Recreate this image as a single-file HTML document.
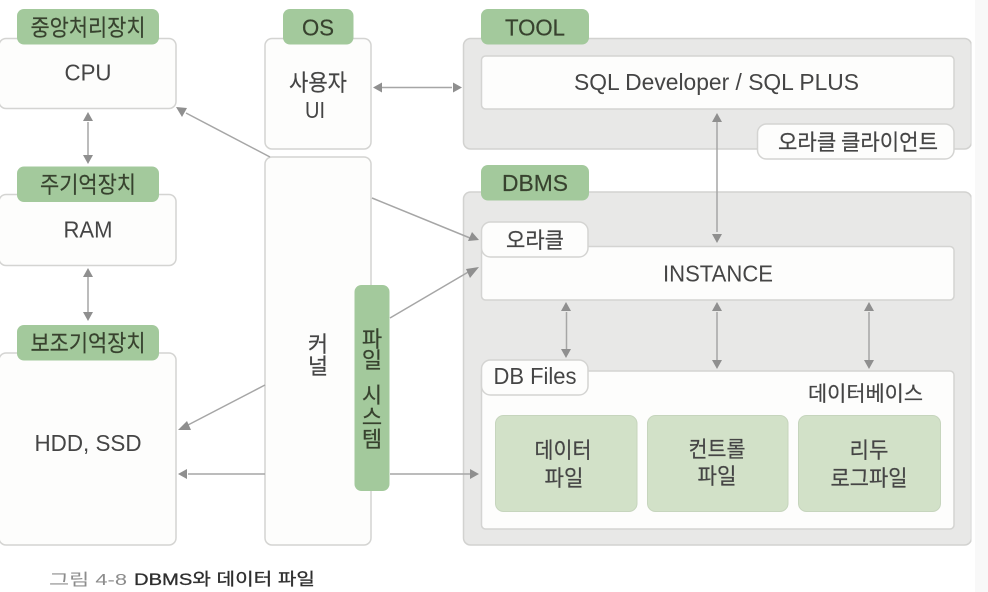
<!DOCTYPE html>
<html><head><meta charset="utf-8"><style>
html,body{margin:0;padding:0;background:#fff;width:988px;height:592px;overflow:hidden}
svg{display:block}
text{font-family:"Liberation Sans","Noto Sans CJK KR",sans-serif;fill:#444;text-anchor:middle}
.k{font-family:"Noto Sans CJK KR","Liberation Sans",sans-serif;font-weight:400;stroke:#444;stroke-width:.2}
.d{fill:#37432f;stroke:#37432f;stroke-width:.2}
.w{fill:#fdfdfc;stroke:#d4d4d2;stroke-width:1.5}
.g{fill:#e8e8e7;stroke:#d2d2d0;stroke-width:1.5}
.t{fill:#a3c99c}
.l{fill:#d2e1c8;stroke:#c6d5bd;stroke-width:1}
.a{stroke:#a6a6a6;stroke-width:1.5;fill:none}
.h{fill:#8f8f8f}
</style></head><body>
<svg width="988" height="592" viewBox="0 0 988 592" xmlns="http://www.w3.org/2000/svg">
<rect x="975" y="0" width="13" height="592" fill="#f8f8f8"/>
<defs><filter id="b" x="0" y="0" width="100%" height="100%"><feGaussianBlur stdDeviation="0.35"/></filter></defs>
<g filter="url(#b)">

<!-- left boxes -->
<rect class="w" x="-1" y="38.5" width="177" height="70" rx="7"/>
<rect class="t" x="17" y="9" width="142" height="35.5" rx="7"/>
<rect class="w" x="-1" y="194.5" width="177" height="71" rx="7"/>
<rect class="t" x="17" y="166.5" width="142" height="35.5" rx="7"/>
<rect class="w" x="-1" y="353" width="177" height="192" rx="7"/>
<rect class="t" x="17" y="325" width="142" height="35.5" rx="7"/>

<!-- center -->
<rect class="w" x="265" y="38.5" width="106" height="110.5" rx="7"/>
<rect class="t" x="283" y="9" width="70.5" height="35.5" rx="7"/>
<rect class="w" x="265" y="157" width="106" height="388" rx="7"/>
<rect class="t" x="354.5" y="285" width="35" height="206" rx="7"/>

<!-- right -->
<rect class="g" x="463.5" y="38.5" width="508" height="110.5" rx="7"/>
<rect class="t" x="481" y="9" width="108" height="35.5" rx="7"/>
<rect class="w" x="481.5" y="56" width="472.5" height="53" rx="4"/>
<rect class="w" x="757.5" y="124" width="196.5" height="35" rx="9"/>

<rect class="g" x="463.5" y="192" width="508" height="353" rx="7"/>
<rect class="t" x="481" y="165" width="108" height="35.5" rx="7"/>
<rect class="w" x="481.5" y="246.5" width="472.5" height="53.5" rx="4"/>
<rect class="w" x="481.5" y="222" width="106.5" height="35" rx="9"/>
<rect class="w" x="481.5" y="371" width="472.5" height="158" rx="4"/>
<rect class="w" x="481.5" y="360" width="106.5" height="35" rx="9"/>
<rect class="l" x="495.5" y="415.5" width="141.5" height="96" rx="8"/>
<rect class="l" x="647.5" y="415.5" width="140.5" height="96" rx="8"/>
<rect class="l" x="798.5" y="415.5" width="142" height="96" rx="8"/>

<!-- connectors -->
<path class="a" d="M88 122V156M88 274V313M382 87.5H452M717 122V232M566.500 312V350M717 312V361M869 312V361M270 157L186 113M372 198L470 238M390 318L470 271M265 385L188 425M265 474H188M390 474H470"/>
<path class="h" d="M88 112l5 9h-10zM88 164l5-9h-10zM88 268l5 9h-10zM88 321l5-9h-10zM373 87.500l9-5v10zM462 87.500l-9-5v10zM717 113l5 9h-10zM717 243l5-9h-10zM566 302l5 9h-10zM566 358l5-9h-10zM717 302l5 9h-10zM717 369l5-9h-10zM869 302l5 9h-10zM869 369l5-9h-10zM176 107l11 1-5 9zM479 240l-11 1 4-9zM479 267l-9 11-4-9zM178 430l9-9 4 9zM178 474l9-5v10zM479 474l-9-5v10z"/>

<!-- labels -->
<g font-size="23">
<text class="k d" x="88" y="35.500" font-size="23" textLength="115" lengthAdjust="spacingAndGlyphs">중앙처리장치</text>
<text class="k d" x="88" y="192.500" font-size="23" textLength="96" lengthAdjust="spacingAndGlyphs">주기억장치</text>
<text class="k d" x="88" y="351" font-size="23" textLength="115" lengthAdjust="spacingAndGlyphs">보조기억장치</text>
<text x="88" y="80.500" textLength="47" lengthAdjust="spacingAndGlyphs">CPU</text>
<text x="88" y="237.500" textLength="49" lengthAdjust="spacingAndGlyphs">RAM</text>
<text x="88" y="451" textLength="107" lengthAdjust="spacingAndGlyphs">HDD, SSD</text>
<text class="d" x="318" y="35.500" textLength="32" lengthAdjust="spacingAndGlyphs">OS</text>
<text class="k" x="318" y="90.500" font-size="23" textLength="58" lengthAdjust="spacingAndGlyphs">사용자</text>
<text x="315" y="118" textLength="20" lengthAdjust="spacingAndGlyphs">UI</text>
<text class="k" x="318" y="352" font-size="22">커</text>
<text class="k" x="318" y="374" font-size="22">널</text>
<text class="k d" x="372" y="347" font-size="22">파</text>
<text class="k d" x="372" y="368" font-size="22">일</text>
<text class="k d" x="372" y="403" font-size="22">시</text>
<text class="k d" x="372" y="425" font-size="22">스</text>
<text class="k d" x="372" y="447" font-size="22">템</text>
<text class="d" x="535" y="35.500" textLength="60" lengthAdjust="spacingAndGlyphs">TOOL</text>
<text class="d" x="535" y="191" textLength="66" lengthAdjust="spacingAndGlyphs">DBMS</text>
<text x="716.500" y="90" textLength="285" lengthAdjust="spacingAndGlyphs">SQL Developer / SQL PLUS</text>
<text class="k" x="858" y="150" font-size="22" textLength="160" lengthAdjust="spacingAndGlyphs">오라클 클라이언트</text>
<text class="k" x="535" y="248" font-size="22" textLength="58" lengthAdjust="spacingAndGlyphs">오라클</text>
<text x="718" y="281.500" textLength="110" lengthAdjust="spacingAndGlyphs">INSTANCE</text>
<text x="535" y="384" textLength="83" lengthAdjust="spacingAndGlyphs">DB Files</text>
<text class="k" x="865.500" y="401" font-size="21" textLength="115" lengthAdjust="spacingAndGlyphs">데이터베이스</text>
<text class="k" x="563" y="458" font-size="22" textLength="57" lengthAdjust="spacingAndGlyphs">데이터</text>
<text class="k" x="564" y="486" font-size="22" textLength="39" lengthAdjust="spacingAndGlyphs">파일</text>
<text class="k" x="717" y="457" font-size="22" textLength="57" lengthAdjust="spacingAndGlyphs">컨트롤</text>
<text class="k" x="717" y="484" font-size="22" textLength="39" lengthAdjust="spacingAndGlyphs">파일</text>
<text class="k" x="869" y="458" font-size="22" textLength="39" lengthAdjust="spacingAndGlyphs">리두</text>
<text class="k" x="869" y="486" font-size="22" textLength="77" lengthAdjust="spacingAndGlyphs">로그파일</text>
</g>

<!-- caption -->
<text x="88" y="585" font-size="16" style="fill:#8c8c8c" textLength="78" lengthAdjust="spacingAndGlyphs">그림 4-8</text>
<text x="224.500" y="585" font-size="17" style="fill:#2e2e2e;stroke:#2e2e2e;stroke-width:.3" textLength="181" lengthAdjust="spacingAndGlyphs">DBMS와 데이터 파일</text>
</g>
</svg>
</body></html>
